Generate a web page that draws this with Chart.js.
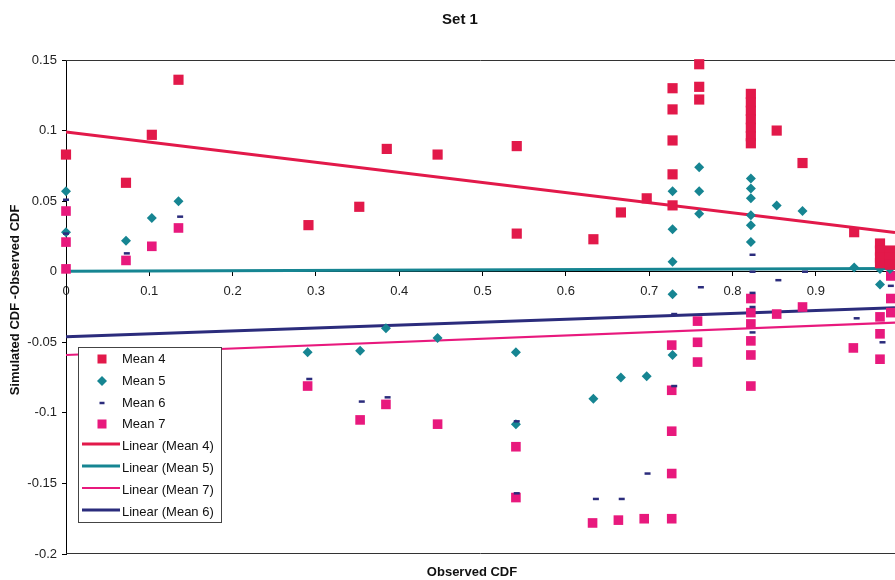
<!DOCTYPE html>
<html><head><meta charset="utf-8">
<script src="https://cdn.jsdelivr.net/npm/chart.js@4.4.1/dist/chart.umd.min.js"></script>
<style>html,body{margin:0;padding:0;background:#fff}#wrap{width:895px;height:580px;position:relative}</style>
</head><body><div id="wrap"><canvas id="c" width="895" height="580"></canvas></div>
<script>
// ---- data ----
const seriesNames = ['Mean 4', 'Mean 5', 'Mean 6', 'Mean 7'];

const mean4X = [0, 0.072, 0.103, 0.135, 0.291, 0.352, 0.385, 0.446, 0.541, 0.541, 0.633, 0.666, 0.697,
  0.728, 0.728, 0.728, 0.728, 0.728, 0.760, 0.760, 0.760,
  0.822, 0.822, 0.822, 0.822, 0.822, 0.822, 0.822, 0.853, 0.884, 0.946,
  0.977, 0.977, 0.977, 0.977, 0.989, 0.989, 0.989];
const mean4Y = [0.083, 0.063, 0.097, 0.136, 0.033, 0.046, 0.087, 0.083, 0.089, 0.027, 0.023, 0.042, 0.052,
  0.130, 0.115, 0.093, 0.069, 0.047, 0.147, 0.131, 0.122,
  0.126, 0.120, 0.114, 0.108, 0.102, 0.096, 0.091, 0.100, 0.077, 0.028,
  0.020, 0.015, 0.010, 0.006, 0.015, 0.010, 0.005];

const mean5X = [0, 0, 0.072, 0.103, 0.135, 0.290, 0.353, 0.384, 0.446, 0.540, 0.540, 0.633, 0.666, 0.697,
  0.728, 0.728, 0.728, 0.728, 0.728, 0.760, 0.760, 0.760,
  0.822, 0.822, 0.822, 0.822, 0.822, 0.822, 0.853, 0.884, 0.946, 0.977, 0.977, 0.989];
const mean5Y = [0.057, 0.028, 0.022, 0.038, 0.050, -0.057, -0.056, -0.040, -0.047, -0.057, -0.108, -0.090, -0.075, -0.074,
  0.057, 0.030, 0.007, -0.016, -0.059, 0.074, 0.057, 0.041,
  0.066, 0.059, 0.052, 0.040, 0.033, 0.021, 0.047, 0.043, 0.003, 0.002, -0.009, 0.002];

const mean6X = [0, 0, 0.073, 0.137, 0.292, 0.355, 0.386, 0.541, 0.541, 0.636, 0.667, 0.698,
  0.730, 0.730, 0.762, 0.824, 0.824, 0.824, 0.824, 0.824, 0.855, 0.887, 0.949, 0.980, 0.990];
const mean6Y = [0.051, 0.027, 0.013, 0.039, -0.076, -0.092, -0.089, -0.106, -0.157, -0.161, -0.161, -0.143,
  -0.030, -0.081, -0.011, 0.012, 0.000, -0.015, -0.025, -0.043, -0.006, 0.000, -0.033, -0.050, -0.010];

const mean7X = [0, 0, 0, 0.072, 0.103, 0.135, 0.290, 0.353, 0.384, 0.446, 0.540, 0.540, 0.632, 0.663, 0.694,
  0.727, 0.727, 0.727, 0.727, 0.727, 0.758, 0.758, 0.758,
  0.822, 0.822, 0.822, 0.822, 0.822, 0.822, 0.853, 0.884, 0.945, 0.977, 0.977, 0.977, 0.990, 0.990, 0.990];
const mean7Y = [0.043, 0.021, 0.002, 0.008, 0.018, 0.031, -0.081, -0.105, -0.094, -0.108, -0.124, -0.160, -0.178, -0.176, -0.175,
  -0.175, -0.143, -0.113, -0.084, -0.052, -0.035, -0.050, -0.064,
  -0.019, -0.029, -0.037, -0.049, -0.059, -0.081, -0.030, -0.025, -0.054, -0.032, -0.044, -0.062, -0.019, -0.029, -0.003];

const trendNames = ['Linear (Mean 4)', 'Linear (Mean 5)', 'Linear (Mean 7)', 'Linear (Mean 6)'];
const trendIntercepts = [0.099, 0.0003, -0.059, -0.046];
const trendSlopes = [-0.0715, 0.002, 0.0231, 0.0206];

const xTicks = [0, 0.1, 0.2, 0.3, 0.4, 0.5, 0.6, 0.7, 0.8, 0.9];
const yTicks = [0.15, 0.1, 0.05, 0, -0.05, -0.1, -0.15, -0.2];
const xRange = [0, 0.995];
const yRange = [-0.2, 0.15];

// ---- styles ----
const C4 = '#e2194a', C5 = '#168592', C6 = '#2b2c7c', C7 = '#e8197d';
const FONT = "'Liberation Sans', Arial, sans-serif";

function pts(xs, ys) { return xs.map((x, i) => ({x: x, y: ys[i]})); }
function trend(k) { return xRange.map(x => ({x: x, y: trendIntercepts[k] + trendSlopes[k] * x})); }

const datasets = [
  {label: seriesNames[0], data: pts(mean4X, mean4Y), pointStyle: 'rect', pointRadius: 7.2, backgroundColor: C4, borderColor: C4, borderWidth: 0, order: 1, clip: false},
  {label: seriesNames[1], data: pts(mean5X, mean5Y), pointStyle: 'rectRot', pointRadius: 5, backgroundColor: C5, borderColor: C5, borderWidth: 0, order: 1, clip: false},
  {label: seriesNames[2], data: pts(mean6X, mean6Y), pointStyle: 'line', pointRadius: 3, backgroundColor: C6, borderColor: C6, borderWidth: 2.5, order: 0, clip: false},
  {label: seriesNames[3], data: pts(mean7X, mean7Y), pointStyle: 'rect', pointRadius: 6.8, backgroundColor: C7, borderColor: C7, borderWidth: 0, order: 1, clip: false},
  {label: trendNames[0], data: trend(0), showLine: true, pointRadius: 0, borderColor: C4, borderWidth: 3, order: 2},
  {label: trendNames[1], data: trend(1), showLine: true, pointRadius: 0, borderColor: C5, borderWidth: 3, order: 2},
  {label: trendNames[2], data: trend(2), showLine: true, pointRadius: 0, borderColor: C7, borderWidth: 2.2, order: 2},
  {label: trendNames[3], data: trend(3), showLine: true, pointRadius: 0, borderColor: C6, borderWidth: 3, order: 2}
];

function fmt(v) { return String(parseFloat(Number(v).toFixed(3))); }

const frame = {
  id: 'frame',
  beforeDatasetsDraw(chart) {
    const {ctx, chartArea: a} = chart;
    ctx.save();
    ctx.strokeStyle = '#333';
    ctx.lineWidth = 1;
    ctx.beginPath();
    ctx.moveTo(a.left, a.top + 0.5); ctx.lineTo(a.right, a.top + 0.5);
    ctx.moveTo(a.left, a.bottom - 0.5); ctx.lineTo(a.right, a.bottom - 0.5);
    ctx.stroke();
    ctx.restore();
  },
  afterDraw(chart) {
    const ctx = chart.ctx;
    ctx.save();
    ctx.fillStyle = '#111';
    ctx.font = "bold 13px " + FONT;
    ctx.textAlign = 'center';
    ctx.textBaseline = 'middle';
    ctx.fillText('Observed CDF', 472, 572);
    ctx.translate(15, 300);
    ctx.rotate(-Math.PI / 2);
    ctx.fillText('Simulated CDF -Observed CDF', 0, 0);
    ctx.restore();

    // legend inside plot
    ctx.save();
    const L = 78, T = 347, R = 222, B = 523;
    ctx.fillStyle = '#fff';
    ctx.fillRect(L, T, R - L, B - T);
    ctx.strokeStyle = '#444';
    ctx.lineWidth = 1;
    ctx.strokeRect(L + 0.5, T + 0.5, R - L - 1, B - T - 1);
    ctx.font = "13px " + FONT;
    ctx.textBaseline = 'middle';
    ctx.textAlign = 'left';
    const rows = [359, 381, 403, 424, 446, 468, 490, 512];
    chart.data.datasets.forEach((d, i) => {
      const y = rows[i];
      const cx = 102;
      if (d.showLine) {
        ctx.strokeStyle = d.borderColor;
        ctx.lineWidth = d.borderWidth;
        ctx.beginPath(); ctx.moveTo(82, y - 2); ctx.lineTo(120, y - 2); ctx.stroke();
      } else if (d.pointStyle === 'rect') {
        ctx.fillStyle = d.backgroundColor;
        ctx.fillRect(cx - 4.5, y - 4.5, 9, 9);
      } else if (d.pointStyle === 'rectRot') {
        ctx.fillStyle = d.backgroundColor;
        ctx.beginPath(); ctx.moveTo(cx, y - 5); ctx.lineTo(cx + 5, y); ctx.lineTo(cx, y + 5); ctx.lineTo(cx - 5, y); ctx.closePath(); ctx.fill();
      } else {
        ctx.strokeStyle = d.borderColor; ctx.lineWidth = 2.5;
        ctx.beginPath(); ctx.moveTo(cx - 2.5, y); ctx.lineTo(cx + 2.5, y); ctx.stroke();
      }
      ctx.fillStyle = '#111';
      ctx.fillText(d.label, 122, y);
    });
    ctx.restore();
  }
};

new Chart(document.getElementById('c'), {
  type: 'scatter',
  data: {datasets: datasets},
  options: {
    responsive: false,
    animation: false,
    devicePixelRatio: 1,
    layout: {autoPadding: false, padding: {left: 25, right: 0, top: 0, bottom: 26}},
    plugins: {
      legend: {display: false},
      tooltip: {enabled: false},
      title: {display: true, text: 'Set 1', color: '#111', font: {family: FONT, size: 15, weight: 'bold'}, padding: {top: 11, bottom: 31}}
    },
    scales: {
      x: {
        type: 'linear', min: xRange[0], max: xRange[1], position: {y: 0},
        afterBuildTicks: s => { s.ticks = xTicks.map(v => ({value: v})); },
        ticks: {callback: fmt, color: '#222', font: {family: FONT, size: 13}, padding: 8, maxRotation: 0, autoSkip: false},
        grid: {display: true, drawOnChartArea: false, drawTicks: true, tickLength: 4, color: '#000'},
        border: {display: true, color: '#000', width: 1}
      },
      y: {
        type: 'linear', min: yRange[0], max: yRange[1],
        afterBuildTicks: s => { s.ticks = yTicks.map(v => ({value: v})); },
        afterFit: s => { s.width = 41; },
        ticks: {callback: fmt, color: '#222', font: {family: FONT, size: 13}, padding: 5, autoSkip: false},
        grid: {display: true, drawOnChartArea: false, drawTicks: true, tickLength: 4, color: '#000'},
        border: {display: true, color: '#000', width: 1}
      }
    }
  },
  plugins: [frame]
});
</script></body></html>
